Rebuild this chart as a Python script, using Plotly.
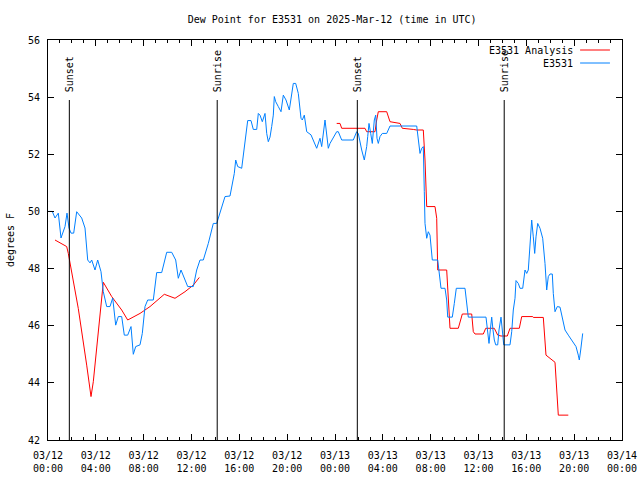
import datetime as dt
import plotly.graph_objects as go

# ---------------- data ----------------
START = dt.datetime(2025, 3, 12, 0, 0)

# hours since 2025-03-12 00:00 UTC
obs_hours = [0.00, 0.36, 0.585, 0.861, 1.087, 1.422, 1.589, 1.756, 1.923, 2.149, 2.400, 2.818, 3.094, 3.320,
             3.512, 3.654, 3.930, 4.156, 4.432, 4.624, 4.909, 5.185, 5.411, 5.661, 5.879, 6.163, 6.381, 6.665,
             6.941, 7.133, 7.334, 7.694, 7.886, 8.112, 8.337, 8.806, 9.090, 9.508, 9.927, 10.345, 10.679, 10.897,
             11.122, 11.398, 11.683, 12.151, 12.435, 12.711, 12.987, 13.405, 13.823, 14.108, 14.467, 14.802,
             15.220, 15.412, 15.580, 15.697, 15.864, 16.198, 16.332, 16.533, 16.700, 16.976, 17.168, 17.453,
             17.587, 17.729, 17.921, 18.147, 18.289, 18.423, 18.565, 18.707, 18.841, 18.924, 19.042, 19.259,
             19.485, 19.677, 19.903, 20.179, 20.380, 20.513, 20.714, 20.932, 21.157, 21.266, 21.433, 21.634,
             21.993, 22.186, 22.470, 22.746, 22.888, 23.164, 23.306, 23.440, 23.582, 24.142, 24.276, 24.560,
             25.530, 25.815, 25.948, 26.091, 26.233, 26.450, 26.651, 26.735, 26.843, 26.986, 27.120, 27.287,
             27.404, 27.513, 27.621, 27.764, 27.956, 28.324, 28.600, 30.833, 30.967, 31.109, 31.251, 31.385,
             31.468, 31.527, 31.669, 31.803, 31.945, 32.029, 32.137, 32.589, 32.698, 32.865, 33.199, 33.341,
             33.425, 33.810, 33.977, 34.144, 34.872, 35.014, 35.148, 36.628, 36.770, 36.879, 36.987, 37.105,
             37.213, 37.322, 37.439, 37.606, 37.715, 37.882, 37.991, 38.108, 38.635, 38.777, 38.911, 39.053,
             39.137, 39.329, 39.471, 39.697, 39.889, 40.031, 40.165, 40.307, 40.449, 40.583, 40.700, 40.809,
             40.951, 41.144, 41.369, 41.561, 41.703, 41.837, 41.979, 42.172, 42.255, 42.397, 42.590, 42.816,
             43.042, 43.234, 43.511, 43.787, 44.153, 44.345, 44.429, 44.546, 44.714]
obs_values = [50.0, 50.0, 49.77, 49.94, 49.07, 49.47, 49.94, 49.42, 49.24, 49.24, 49.99, 49.77, 49.42, 48.30,
              48.2, 48.3, 47.95, 48.3, 47.89, 47.19, 46.67, 46.67, 46.97, 46.02, 46.32, 46.32, 45.67, 45.67,
              45.97, 45.0, 45.27, 45.33, 45.73, 46.67, 46.9, 46.9, 47.86, 47.86, 48.57, 48.57, 48.3, 47.66,
              47.95, 47.66, 47.37, 47.37, 47.95, 48.3, 48.3, 48.88, 49.58, 49.58, 50.05, 50.52,
              50.54, 50.98, 51.33, 51.8, 51.57, 51.51, 51.92, 52.67, 53.18, 53.18, 52.87, 52.87,
              53.43, 53.37, 53.14, 53.43, 52.73, 52.44, 52.6, 52.97, 53.37, 54.02, 53.84, 53.67,
              53.49, 54.07, 53.9, 53.55, 54.02, 54.48, 54.48, 54.13, 53.26, 53.2, 53.37, 52.79,
              52.68, 52.5, 52.21, 52.56, 52.27, 53.2, 52.73, 52.21, 52.38, 52.79, 52.79, 52.5,
              52.5, 52.79, 52.73, 52.38, 52.15, 51.8, 52.27, 52.62, 53.08, 52.73, 52.38, 53.2,
              53.37, 52.56, 52.38, 52.62, 52.73, 52.73, 52.99, 52.99, 52.56, 52.03, 52.21, 52.27,
              50.69, 49.58, 49.06, 49.29, 49.17, 48.77, 48.3, 48.3, 47.95, 47.31, 47.31, 46.9,
              46.3, 46.3, 46.78, 47.31, 47.31, 46.78, 46.3, 46.3, 45.85, 45.38, 45.85, 46.3,
              45.85, 45.5, 45.33, 45.33, 45.85, 46.3, 45.85, 45.33, 45.33, 45.79, 46.55, 46.96,
              47.58, 47.48, 47.31, 47.31, 47.95, 47.83, 47.95, 48.88, 49.7, 49.11, 48.53, 49.11,
              49.58, 49.41, 49.06, 48.18, 47.25, 47.72, 47.81, 47.81, 47.13, 46.49, 46.67, 46.65,
              46.26, 45.85, 45.67, 45.5, 45.27, 44.97, 44.8, 45.15, 45.73]

# analysis series (None = gap)
ana_hours = [0.585, 1.564, 1.698, 2.534, 3.236, 3.596, 3.788, 4.206, 4.624, 5.327, 6.163, 6.665, 7.694,
             8.530, 9.726, 10.620, 11.457, 12.151, 12.653, None,
             24.142, 24.418, 24.560, 26.509, 26.651, 27.345, 27.487, 27.621, 28.324, 28.600, 29.436, 29.628,
             30.548, 30.833, 31.385, 31.468, 31.527, 31.669, 32.363, 32.505, 32.589, 33.341, 33.475, 33.617,
             34.311, 34.537, 34.646, 35.432, 35.566, 35.708, 36.402, 36.603, 37.322, 37.606, 37.882, 38.409,
             38.635, 39.413, 39.614, 40.533, 40.583, 41.419, 41.561, 41.644, 42.397, 42.539, 42.673, 43.509]
ana_values = [49.0, 48.77, 48.53, 46.6, 44.62, 43.52, 44.04, 45.67, 47.52, 47.02, 46.55, 46.2, 46.43,
              46.67, 47.1, 46.96, 47.19, 47.42, 47.69, None,
              53.08, 53.08, 52.91, 52.91, 52.79, 52.79, 53.2, 53.49, 53.49, 53.14, 53.08, 52.91,
              52.87, 52.85, 52.85, 52.38, 51.8, 50.17, 50.17, 49.76, 47.95, 47.95, 46.9, 45.91,
              45.91, 46.26, 46.41, 46.41, 45.79, 45.71, 45.71, 45.91, 45.91, 45.67, 45.64, 45.64,
              45.91, 45.91, 46.32, 46.32, 46.29, 46.29, 45.62, 44.97, 44.72, 43.75, 42.87, 42.87]

sun_events = ["2025-03-12 01:47", "2025-03-12 14:09", "2025-03-13 01:52", "2025-03-13 14:09"]
sun_labels = ["Sunset", "Sunrise", "Sunset", "Sunrise"]

station = "E3531"
title_text = "Dew Point for E3531 on 2025-Mar-12 (time in UTC)"
y_title = "degrees F"
RED = "#ff0000"
BLUE = "#0080ff"
FONT = "DejaVu Sans Mono"


def to_time(hours):
    return [None if h is None else START + dt.timedelta(hours=h) for h in hours]


fig = go.Figure()
fig.add_trace(go.Scatter(x=to_time(ana_hours), y=ana_values, mode="lines",
                         line=dict(color=RED, width=1), name=station + " Analysis",
                         connectgaps=False))
fig.add_trace(go.Scatter(x=to_time(obs_hours), y=obs_values, mode="lines",
                         line=dict(color=BLUE, width=1), name=station))

# sunrise / sunset markers
for t, lab in zip(sun_events, sun_labels):
    fig.add_shape(type="line", xref="x", yref="paper", x0=t, x1=t, y0=0, y1=0.85,
                  line=dict(color="black", width=1))
    fig.add_annotation(x=t, xref="x", yref="paper", y=0.865, text=lab, textangle=-90,
                       showarrow=False, xanchor="center", yanchor="bottom",
                       font=dict(family=FONT, size=10, color="black"))

# gnuplot-style legend (text then sample)
legend_items = [(station + " Analysis", RED, 0.975), (station, BLUE, 0.9425)]
for text, col, yy in legend_items:
    fig.add_annotation(x=0.918, y=yy, xref="paper", yref="paper", text=text, showarrow=False,
                       xanchor="right", yanchor="middle", font=dict(family=FONT, size=10, color="black"))
    fig.add_shape(type="line", xref="paper", yref="paper", x0=0.927, x1=0.979, y0=yy, y1=yy,
                  line=dict(color=col, width=1))

fig.add_annotation(x=-0.066, y=0.5, xref="paper", yref="paper", text=y_title, textangle=-90,
                   showarrow=False, xanchor="center", yanchor="middle",
                   font=dict(family=FONT, size=10, color="black"))

fig.update_layout(
    width=640, height=480,
    margin=dict(l=48, r=18, t=40, b=40, autoexpand=False),
    paper_bgcolor="white", plot_bgcolor="white",
    showlegend=False,
    title=dict(text=title_text, x=0.519, xanchor="center", y=1 - 19 / 480, yanchor="middle",
               font=dict(family=FONT, size=10, color="black")),
    font=dict(family=FONT, size=10, color="black"),
)
fig.update_xaxes(
    type="date", range=["2025-03-12 00:00", "2025-03-14 00:00"], automargin=False,
    tickmode="linear", tick0="2025-03-12 00:00", dtick=4 * 3600 * 1000,
    tickformat="%m/%d<br>%H:%M", ticks="inside", ticklen=6, tickcolor="black",
    ticklabelstandoff=6,
    showline=True, linecolor="black", linewidth=1, mirror="allticks",
    showgrid=False, zeroline=False,
    minor=dict(ticks="inside", ticklen=3, dtick=3600 * 1000, tickcolor="black", showgrid=False),
    tickfont=dict(family=FONT, size=10, color="black"),
)
fig.update_yaxes(
    range=[42, 56], tickmode="linear", tick0=42, dtick=2, automargin=False,
    ticks="inside", ticklen=6, tickcolor="black", ticklabelstandoff=5,
    showline=True, linecolor="black", linewidth=1, mirror="allticks",
    showgrid=False, zeroline=False,
    tickfont=dict(family=FONT, size=10, color="black"),
)

# remove the page's default 8px body margin so the 640x480 figure fills the window exactly
fig.write_html("out.html", config={"displayModeBar": False, "staticPlot": True},
               post_script="document.body.style.margin='0';document.body.style.overflow='hidden';")
